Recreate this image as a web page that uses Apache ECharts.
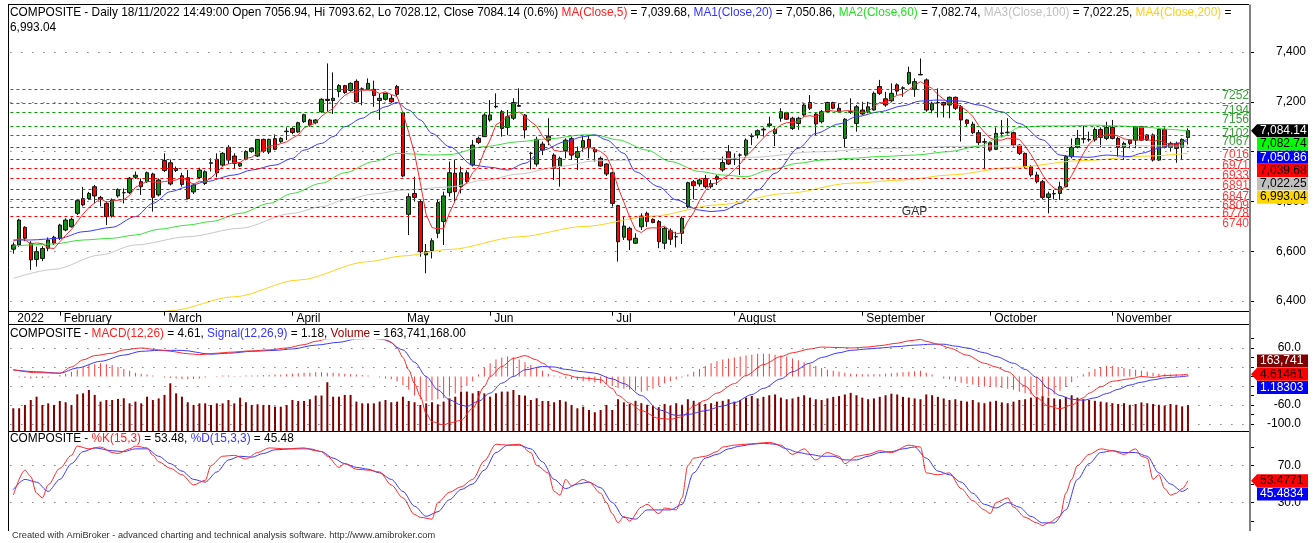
<!DOCTYPE html>
<html>
<head>
<meta charset="utf-8">
<title>COMPOSITE - Daily</title>
<script src="https://cdn.jsdelivr.net/npm/echarts@6.0.0/dist/echarts.min.js"></script>
<style>
html, body { margin: 0; padding: 0; background: #fff; }
#chart { width: 1314px; height: 543px; }
</style>
</head>
<body>
<div id="chart"></div>
<script>
var FONT = '"Liberation Sans", Arial, sans-serif';

// trading days on the chart, by month
var tradingDays = [
  ['2022-01', [20,21,24,25,26,27,28,31]],
  ['2022-02', [2,3,4,7,8,9,10,11,14,15,16,17,18,21,22,23,24,25]],
  ['2022-03', [1,2,4,7,8,9,10,11,14,15,16,17,18,21,22,23,24,25,28,29,30,31]],
  ['2022-04', [1,4,5,6,7,8,11,12,13,14,18,19,20,21,22,25,26,27,28]],
  ['2022-05', [9,10,11,12,13,17,18,19,20,23,24,25,27,30,31]],
  ['2022-06', [2,3,6,7,8,9,10,13,14,15,16,17,20,21,22,23,24,27,28,29,30]],
  ['2022-07', [1,4,5,6,7,8,11,12,13,14,15,18,19,20,21,22,25,26,27,28,29]],
  ['2022-08', [1,2,3,4,5,8,9,10,11,12,15,16,18,19,22,23,24,25,26,29,30,31]],
  ['2022-09', [1,2,5,6,7,8,9,12,13,14,15,16,19,20,21,22,23,26,27,28,29,30]],
  ['2022-10', [3,4,5,6,7,10,11,12,13,14,17,18,19,20,21,24,25,26,27,28,31]],
  ['2022-11', [1,2,3,4,7,8,9,10,11,14,15,16,17,18]]
];
var monthNames = {
  '2022-02': 'February', '2022-03': 'March', '2022-04': 'April', '2022-05': 'May',
  '2022-06': 'Jun', '2022-07': 'Jul', '2022-08': 'August', '2022-09': 'September',
  '2022-10': 'October', '2022-11': 'November'
};
var emptyBars = 10;

// open, close, low, high
var candles = [
  [6608,6625,6590,6635],[6625,6725,6618,6730],[6696,6652,6640,6700],[6632,6565,6525,6640],
  [6567,6598,6538,6618],[6571,6611,6560,6620],[6612,6645,6600,6655],[6656,6632,6625,6662],
  [6652,6705,6645,6710],[6685,6725,6680,6732],[6698,6728,6695,6735],[6752,6803,6745,6810],
  [6811,6786,6780,6858],[6811,6832,6805,6838],[6859,6822,6792,6866],[6816,6808,6780,6822],
  [6792,6739,6705,6800],[6741,6806,6735,6812],[6822,6848,6815,6852],[6835,6835,6792,6852],
  [6835,6893,6830,6898],[6897,6905,6890,6920],[6879,6859,6826,6892],[6879,6915,6875,6920],
  [6910,6816,6759,6915],[6826,6886,6820,6892],[6964,6924,6918,6993],[6955,6870,6864,6968],
  [6924,6932,6918,6940],[6903,6868,6859,6915],[6895,6811,6808,6926],[6838,6866,6830,6872],
  [6896,6926,6890,6935],[6872,6919,6866,6925],[6953,6955,6920,6973],[6969,6915,6897,6993],
  [6946,6993,6940,6998],[7017,6966,6950,7026],[6982,6953,6933,6993],[6942,6953,6938,6958],
  [6970,7000,6965,7005],[7000,7013,6995,7018],[6982,7049,6978,7050],[7049,7002,6995,7052],
  [6998,7049,6990,7052],[7052,7009,7006,7069],[7040,7053,7035,7058],[7080,7082,7046,7097],
  [7093,7077,7070,7098],[7079,7116,7075,7120],[7120,7148,7115,7152],[7127,7107,7100,7132],
  [7116,7127,7110,7130],[7160,7210,7156,7214],[7210,7205,7160,7354],[7205,7214,7151,7318],
  [7241,7265,7218,7271],[7265,7237,7232,7268],[7245,7274,7240,7278],[7282,7200,7196,7290],
  [7250,7252,7186,7258],[7250,7274,7247,7294],[7250,7225,7180,7285],[7205,7214,7127,7231],
  [7210,7234,7205,7236],[7214,7200,7196,7227],[7261,7230,7220,7268],[7156,6902,6897,7160],
  [6748,6819,6665,6832],[6832,6816,6799,6899],[6799,6598,6578,6806],[6585,6598,6511,6629],
  [6602,6642,6571,6652],[6672,6795,6652,6806],[6719,6822,6625,6839],[6835,6915,6819,6960],
  [6913,6839,6799,6966],[6859,6915,6832,6940],[6915,6880,6870,6925],[6946,7026,6940,7047],
  [7053,7037,7030,7060],[7060,7147,7060,7154],[7127,7147,7120,7207],[7180,7182,7174,7234],
  [7160,7093,7060,7167],[7097,7140,7066,7167],[7134,7197,7127,7214],[7185,7182,7180,7254],
  [7147,7087,7053,7151],[6993,6993,6929,6999],[6950,7049,6940,7060],[7030,7006,6986,7040],
  [7062,7046,7026,7134],[6986,6933,6886,6993],[6940,6973,6859,6980],[7004,7046,6973,7053],
  [7052,6986,6966,7060],[6977,7000,6926,7020],[7017,7044,7000,7067],[7049,7015,6973,7067],
  [7009,6999,6960,7017],[6973,6942,6940,6980],[6950,6910,6902,6953],[6915,6792,6779,6919],
  [6783,6638,6558,6786],[6656,6701,6645,6738],[6692,6645,6605,6698],[6632,6652,6629,6672],
  [6698,6741,6685,6752],[6752,6719,6698,6759],[6728,6715,6712,6732],[6719,6638,6612,6725],
  [6632,6692,6608,6698],[6682,6648,6625,6692],[6658,6658,6615,6678],[6672,6732,6629,6739],
  [6779,6875,6772,6879],[6879,6863,6808,6886],[6870,6886,6859,6892],[6892,6859,6852,6906],
  [6859,6872,6852,6886],[6899,6889,6866,6906],[6926,6956,6919,6980],[6999,6950,6946,7026],
  [6970,6970,6946,6993],[6986,6986,6906,6993],[6986,7046,6982,7053],[7060,7063,7026,7073],
  [7067,7084,7053,7089],[7087,7090,7060,7097],[7105,7111,7097,7140],[7073,7089,7022,7097],
  [7134,7160,7120,7174],[7156,7130,7127,7160],[7134,7093,7087,7140],[7113,7134,7087,7140],
  [7147,7187,7140,7194],[7197,7174,7167,7227],[7151,7111,7066,7156],[7120,7160,7113,7167],
  [7160,7197,7156,7200],[7197,7174,7170,7200],[7174,7160,7156,7194],[7053,7130,7017,7134],
  [7158,7160,7151,7214],[7113,7180,7080,7187],[7167,7151,7147,7200],[7160,7180,7154,7200],
  [7167,7234,7164,7241],[7261,7234,7227,7288],[7212,7187,7180,7240],[7204,7234,7200,7274],
  [7268,7243,7228,7274],[7254,7256,7220,7262],[7274,7318,7268,7341],[7250,7281,7220,7294],
  [7310,7308,7307,7374],[7288,7167,7160,7294],[7167,7194,7154,7200],[7197,7196,7137,7254],
  [7197,7187,7137,7200],[7187,7218,7134,7221],[7218,7174,7167,7221],[7180,7127,7040,7187],
  [7127,7113,7103,7130],[7110,7076,7070,7120],[7076,7036,7026,7087],[7040,7038,6929,7053],
  [7036,7006,7000,7040],[7009,7073,7006,7097],[7073,7075,7057,7127],[7076,7078,7066,7134],
  [7076,7026,7020,7080],[7026,6993,6986,7030],[6993,6939,6933,6996],[6939,6906,6899,6946],
  [6906,6879,6872,6919],[6879,6816,6808,6886],[6816,6830,6752,6839],[6830,6832,6808,6846],
  [6832,6859,6806,6879],[6859,6980,6856,6986],[6980,7017,6973,7053],[7017,7053,7013,7087],
  [7050,7052,7033,7103],[7047,7049,7040,7080],[7047,7089,7040,7097],[7089,7057,7017,7097],
  [7053,7097,7046,7120],[7097,7053,7049,7127],[7053,7017,6980,7060],[7017,7033,6966,7040],
  [7046,7033,7013,7049],[7046,7100,7013,7103],[7100,7046,7044,7103],[7067,7046,7044,7070],
  [7067,6966,6960,7073],[6966,7089,6963,7093],[7089,7017,7013,7097],[7017,7033,7000,7040],
  [7033,7013,6955,7040],[7017,7049,6966,7053],[7056.94,7084.14,7028.12,7093.62]
];

// MA(Close,5), one value per bar
var ma5 = [
  6640,6650,6645,6630,6633,6630,6614,6610,6638,6664,6687,6719,6749,6775,6794,6810,6797,6801,6805,6807,
  6824,6857,6868,6881,6878,6876,6880,6882,6886,6896,6881,6869,6881,6878,6895,6916,6942,6950,6956,6956,
  6973,6977,6994,7003,7023,7024,7032,7039,7054,7067,7095,7106,7115,7142,7159,7173,7204,7226,7239,7238,
  7246,7247,7245,7233,7240,7229,7221,7156,7077,6993,6873,6747,6695,6690,6691,6754,6803,6857,6874,6915,
  6939,7001,7047,7108,7121,7142,7152,7159,7140,7120,7102,7063,7036,7005,7001,7001,6997,6988,7010,7018,
  7009,7000,6982,6932,6856,6797,6737,6686,6675,6692,6694,6693,6701,6682,6670,6674,6721,6755,6803,6843,
  6871,6874,6892,6905,6927,6950,6982,7003,7030,7054,7079,7087,7107,7116,7117,7121,7141,7144,7140,7153,
  7166,7163,7160,7164,7164,7161,7156,7160,7181,7196,7197,7214,7226,7231,7248,7266,7281,7266,7254,7229,
  7210,7192,7194,7180,7164,7142,7105,7078,7054,7046,7046,7054,7052,7049,7022,6988,6949,6907,6874,6853,
  6843,6863,6904,6948,6992,7030,7052,7060,7069,7069,7063,7051,7047,7047,7046,7052,7038,7049,7033,7030,
  7024,7040,7039.68
];

// [bar number, value] read along the smoother averages
var ma20 = [[1,6645],[4,6645],[9,6652],[13,6678],[18,6696],[22,6739],[25,6792],[28,6839],[31,6859],[34,6879],
  [39,6906],[42,6926],[46,6946],[49,6973],[51,7006],[54,7033],[56,7060],[58,7100],[61,7134],[63,7160],
  [65,7180],[67,7197],[69,7167],[71,7127],[73,7073],[76,7020],[80,6946],[83,6937],[86,6926],[89,6953],
  [92,7006],[96,7040],[99,7060],[101,7067],[103,7047],[106,6993],[108,6919],[112,6859],[115,6806],[119,6765],
  [121,6759],[123,6763],[126,6792],[129,6846],[132,6913],[136,7013],[139,7073],[143,7111],[146,7140],[150,7160],
  [154,7184],[157,7203],[160,7207],[164,7203],[167,7187],[171,7160],[174,7113],[178,7047],[181,6986],[183,6980],
  [186,6977],[189,6986],[193,6980],[195,6993],[198,7013],[201,7033],[203,7050.86]];
var ma60 = [[1,6621],[8,6629],[13,6645],[18,6652],[22,6665],[26,6688],[31,6705],[35,6719],[40,6752],[45,6792],
  [49,6832],[54,6873],[58,6915],[63,6960],[67,6993],[70,6990],[73,6986],[76,6988],[82,7020],[88,7040],
  [93,7051],[99,7067],[101,7067],[105,7047],[110,7006],[114,6960],[119,6920],[123,6906],[127,6899],[131,6926],
  [136,6953],[140,6966],[145,6973],[150,6980],[156,6986],[162,7000],[167,7022],[171,7060],[174,7097],[178,7103],
  [182,7103],[187,7106],[191,7103],[196,7097],[200,7089],[203,7082.74]];
var ma100 = [[1,6491],[8,6527],[16,6585],[22,6625],[31,6658],[40,6692],[49,6752],[54,6779],[58,6806],[63,6830],
  [68,6845],[76,6858],[82,6885],[88,6910],[95,6940],[101,6963],[111,6968],[122,6970],[128,6977],[139,6999],
  [150,7013],[167,7022],[179,7025],[203,7022.25]];
var ma200 = [[25,6340],[28,6361],[39,6417],[50,6484],[62,6558],[68,6581],[76,6607],[88,6658],[99,6699],[111,6741],
  [122,6786],[134,6832],[145,6873],[154,6886],[162,6906],[173,6937],[185,6964],[196,6982],[203,6993.04]];

var greenLevels = [7252, 7194, 7156, 7102, 7067];
var redLevels = [7016, 6971, 6933, 6891, 6847, 6809, 6778, 6740];
var priceTicks = [6400, 6600, 6800, 7000, 7200, 7400];

// MACD panel
var macd = [[1,14],[5,8],[9,7],[11,20],[13,35],[15,44],[18,49],[20,56],[23,60],[26,56],[28,53],[31,48],[33,46],
  [36,49],[38,51],[42,54],[45,56],[48,60],[51,67],[53,74],[55,79],[58,85],[61,86],[64,82],[66,72],[67,60],
  [68,40],[69,14],[70,-15],[71,-42],[72,-78],[73,-95],[75,-102],[76,-98],[78,-92],[80,-67],[82,-21],[83,0],
  [85,21],[87,38],[89,44],[91,35],[92,28],[94,12],[96,4],[98,-2],[100,-4],[102,-7],[104,-25],[105,-40],
  [107,-56],[109,-72],[112,-88],[114,-90],[116,-85],[118,-62],[120,-50],[122,-35],[125,-15],[127,2],[130,25],
  [133,42],[135,50],[138,58],[140,62],[143,61],[145,60],[148,62],[150,65],[153,70],[155,75],[157,78],[158,74],
  [160,68],[162,60],[165,45],[168,28],[170,20],[172,10],[175,-20],[177,-45],[179,-62],[181,-68],[183,-60],
  [185,-45],[186,-35],[188,-22],[190,-10],[193,-5],[195,0],[197,-2],[199,2],[201,3],[203,4.61]];
var signal = [[1,14],[5,10],[9,7],[12,18],[16,32],[20,45],[23,53],[26,55],[30,55],[35,47],[38,49],[42,53],
  [46,55],[49,58],[53,66],[57,72],[60,79],[63,80],[65,77],[68,56],[70,30],[72,0],[74,-28],[76,-49],[78,-60],
  [79,-63],[81,-52],[83,-35],[85,-14],[87,0],[89,14],[92,21],[94,20],[96,15],[99,10],[101,7],[104,-5],
  [106,-15],[109,-40],[112,-70],[115,-82],[117,-80],[120,-72],[123,-62],[125,-55],[128,-38],[130,-25],
  [133,-5],[135,10],[138,28],[140,40],[143,50],[145,55],[148,58],[150,60],[153,63],[156,66],[159,68],
  [161,68],[163,64],[165,60],[168,50],[170,42],[173,28],[175,15],[177,-2],[179,-25],[181,-40],[183,-48],
  [185,-50],[187,-45],[189,-36],[191,-27],[193,-18],[195,-12],[197,-7],[199,-3],[201,-1],[203,1.18]];
var histogram = [
  0,-2,-3,-4,-3,-3,-2,0,
  3,6,10,15,20,24,26,28,26,24,20,16,12,8,
  6,4,2,0,-2,-3,-4,-5,-6,-5,-4,-2,0,1,2,2,1,1,2,2,
  2,3,3,4,4,5,6,7,8,8,9,9,8,8,7,6,5,4,3,2,
  0,-2,-4,-6,-10,
  -18,-28,-40,-48,-52,-50,-48,-46,-42,-36,-30,-20,-10,
  4,18,28,36,40,42,40,36,30,24,18,12,6,
  2,-2,-4,-6,-8,-10,-10,-12,-14,-16,
  -20,-24,-26,-28,-30,-32,-30,-26,-20,
  -14,-10,-6,-2,4,10,16,22,28,32,36,38,40,
  42,44,46,48,48,48,46,44,42,38,34,30,26,22,18,
  14,12,10,8,6,5,5,5,5,5,6,7,8,9,10,11,12,
  8,4,0,-4,-6,-10,-13,-15,-17,-19,-21,-22,-22,
  -24,-26,-28,-32,-35,-38,-40,-42,-42,-38,-30,-22,
  -12,-2,5,10,16,20,22,22,
  20,18,16,14,12,10,8,6,5,4,4,3,3
];
// volume, millions
var volume = [
  143,143,164,195,216,164,174,164,189,181, 164,231,237,258,227,185,195,195,202,206,
  174,185,174,216,195,205,227,300,237,216, 181,164,174,174,164,174,174,195,174,210,
  181,164,168,164,164,153,153,164,195,189, 189,200,223,223,307,216,216,227,227,185,
  174,174,174,185,195,181,185,216,189,181, 164,174,181,168,185,206,216,248,248,237,
  252,237,216,237,248,248,258,227,223,195, 206,189,189,181,195,185,164,143,153,132,
  118,132,164,132,200,180,170,190,175,165,160,150,
  170,160,175,165,200,190,180,170,175,185,190,200,185,
  195,210,220,205,215,225,230,210,200,205,215,225,210,200,195,
  205,215,220,230,240,225,210,200,205,215,225,235,230,215,210,205,200,
  230,225,215,205,195,200,190,185,195,180,175,185,190,
  180,175,185,195,200,210,215,220,210,205,200,215,
  225,210,200,195,190,185,180,175,
  170,175,165,170,180,175,170,165,160,170,165,155,164
];
var macdTicks = [-100,-80,-60,-40,-20,0,20,40,60,80];
var macdLabels = [-100,-60,0,60];
var macdGrid = [60,20,-20,-60,-100];

// Stochastic panel
var stochK = [[1,38],[3,65],[4,58],[5,40],[6,35],[7,49],[9,67],[11,81],[12,91],[14,88],[16,90],[18,84],[19,83],
  [21,88],[22,91],[24,89],[25,81],[26,74],[28,67],[30,60],[32,49],[34,54],[35,70],[37,80],[39,81],[41,77],
  [43,84],[45,89],[48,88],[51,89],[53,86],[54,85],[55,80],[57,68],[58,72],[60,66],[62,65],[64,63],[66,49],
  [68,35],[70,17],[71,14],[73,12],[74,30],[76,41],[78,47],[80,55],[82,75],[84,93],[86,92],[88,93],[90,84],
  [91,70],[93,62],[94,42],[95,38],[96,55],[97,48],[99,55],[100,52],[102,40],[103,30],[104,18],[105,8],
  [106,15],[107,10],[109,25],[110,28],[112,18],[113,24],[115,22],[116,35],[117,70],[118,78],[120,80],
  [122,85],[123,90],[125,92],[127,93],[129,94],[131,95],[133,92],[135,82],[137,88],[139,76],[141,84],
  [143,80],[144,72],[146,80],[148,82],[150,86],[152,84],[155,92],[157,90],[158,62],[160,60],[162,62],
  [164,45],[166,32],[168,22],[169,18],[170,30],[172,35],[173,25],[175,14],[177,8],[178,5],[179,8],[181,15],
  [182,40],[183,55],[184,70],[186,82],[188,88],[190,86],[192,82],[194,88],[195,80],[196,78],[197,55],
  [198,60],[199,45],[200,38],[201,40],[202,45],[203,53.48]];
var stochD = [[1,44],[3,55],[5,52],[7,42],[9,55],[11,72],[13,85],[15,89],[18,86],[20,85],[22,88],[24,88],
  [26,80],[28,72],[30,64],[32,55],[34,52],[36,63],[38,76],[40,80],[42,79],[44,83],[46,87],[49,88],[52,88],
  [54,85],[56,78],[58,72],[60,68],[62,66],[64,62],[66,55],[68,42],[70,26],[72,15],[74,20],[76,33],[78,44],
  [80,50],[82,65],[84,84],[86,92],[88,92],[90,88],[92,74],[94,55],[96,45],[98,50],[100,52],[102,46],
  [104,30],[106,14],[108,12],[110,22],[112,22],[114,22],[116,28],[118,62],[120,78],[122,82],[124,88],
  [126,91],[128,93],[130,94],[132,93],[134,88],[136,84],[138,82],[140,80],[142,80],[144,76],[146,76],
  [148,80],[150,84],[152,85],[154,88],[156,90],[158,78],[160,64],[162,60],[164,52],[166,40],[168,28],
  [170,24],[172,30],[174,25],[176,15],[178,8],[180,8],[182,22],[184,55],[186,72],[188,84],[190,86],
  [192,84],[194,84],[196,80],[198,62],[200,50],[202,42],[203,45.48]];
var stochTicks = [10,30,50,70,90];
var stochLabels = [30,70];

// last values shown in the right-hand tags
var lastClose = 7084.14;
var lastMa = [7082.74, 7050.86, 7039.68, 7022.25, 6993.04];
var lastMacd = 4.61461, lastSignal = 1.18303, lastVolume = '163,741,168.00';
var lastK = 53.4771, lastD = 45.4834;

// ---- build categories
var categories = [];
var monthStart = {};
tradingDays.forEach(function (m) {
  m[1].forEach(function (d, k) {
    if (k === 0) monthStart[categories.length] = m[0];
    categories.push(m[0] + '-' + (d < 10 ? '0' : '') + d);
  });
});
for (var e = 0; e < emptyBars; e++) categories.push('blank' + e);

function pts(arr) { return arr.map(function (p) { return [p[0] - 1, p[1]]; }); }

var chartLeft = 10.4, chartRight = 1249;
var layout = { left: chartLeft, width: chartRight - chartLeft };

var chart = echarts.init(document.getElementById('chart'), null, { renderer: 'canvas', devicePixelRatio: 1, width: 1314, height: 543 });

var txt = { fontFamily: FONT, fontSize: 11.85, fontWeight: 'normal', color: '#000', lineHeight: 15 };
function rich(c) { return Object.assign({}, txt, { color: c }); }

function dotted(values) {
  return values.map(function (v) { return { yAxis: v }; });
}
var levelLines = greenLevels.map(function (v) {
  return { yAxis: v, lineStyle: { color: '#00a000', type: [3, 3], width: 1 },
    label: { show: true, color: '#3aa03a' } };
}).concat(redLevels.map(function (v) {
  return { yAxis: v, lineStyle: { color: '#ff0000', type: [3, 3], width: 1 },
    label: { show: true, color: '#ff3c3c' } };
}));

function maLine(name, data, color, smooth) {
  return {
    type: 'line', name: name, xAxisIndex: 0, yAxisIndex: 0, data: data,
    showSymbol: false, smooth: smooth, smoothMonotone: 'x', z: 4, silent: true,
    lineStyle: { color: color, width: 1 }
  };
}

var option = {
  animation: false,
  backgroundColor: '#fff',
  title: [
    { left: 10, top: 5, padding: 0, text:
      '{k|COMPOSITE - Daily 18/11/2022 14:49:00 Open 7056.94, Hi 7093.62, Lo 7028.12, Close 7084.14 (0.6%) }' +
      '{r|MA(Close,5)}{k| = 7,039.68, }{b|MA1(Close,20)}{k| = 7,050.86, }{g|MA2(Close,60)}{k| = 7,082.74, }' +
      '{s|MA3(Close,100)}{k| = 7,022.25, }{y|MA4(Close,200)}{k| =}\n{k|6,993.04}',
      textStyle: { fontWeight: 'normal', rich: { k: rich('#000'), r: rich('#ff2020'), b: rich('#3434ff'), g: rich('#22e022'), s: rich('#c0c0c0'), y: rich('#ffcc22') } } },
    { left: 10, top: 326, padding: 0, backgroundColor: '#fff', z: 10, text:
      '{k|COMPOSITE - }{r|MACD(12,26)}{k| = 4.61, }{b|Signal(12,26,9)}{k| = 1.18, }{v|Volume}{k| = 163,741,168.00}',
      textStyle: { fontWeight: 'normal', rich: { k: rich('#000'), r: rich('#ff2020'), b: rich('#3434ff'), v: rich('#a00000') } } },
    { left: 10, top: 431, padding: 0, backgroundColor: '#fff', z: 10, text:
      '{k|COMPOSITE - }{r|%K(15,3)}{k| = 53.48, }{b|%D(15,3,3)}{k| = 45.48}',
      textStyle: { fontWeight: 'normal', rich: { k: rich('#000'), r: rich('#ff2020'), b: rich('#3434ff') } } },
    { left: 12, top: 531, padding: 0, text: 'Created with AmiBroker - advanced charting and technical analysis software. http://www.amibroker.com',
      textStyle: { fontFamily: FONT, fontSize: 9.25, fontWeight: 'normal', color: '#333' } }
  ],
  grid: [
    Object.assign({ top: 5, height: 306.7 }, layout),
    Object.assign({ top: 325, height: 106 }, layout),
    Object.assign({ top: 431, height: 100 }, layout)
  ],
  xAxis: [
    { type: 'category', gridIndex: 0, data: categories, boundaryGap: true,
      axisLine: { show: false },
      axisTick: { show: true, alignWithLabel: true, length: 4, lineStyle: { color: '#000' },
        interval: function (i) { return i !== 0 && monthStart[i] !== undefined && monthStart[i] !== '2022-05'; } },
      axisLabel: { show: true, margin: 1, align: 'left', padding: [0, 0, 0, 4], color: '#000', fontFamily: FONT, fontSize: 12,
        interval: function (i) { return monthStart[i] !== undefined; },
        formatter: function (v, i) { return i === 0 ? '2022' : monthNames[monthStart[i]]; } },
      splitLine: { show: false } },
    { type: 'category', gridIndex: 1, data: categories, show: false },
    { type: 'category', gridIndex: 2, data: categories, show: false },
    { type: 'category', gridIndex: 1, data: categories, show: false }
  ],
  yAxis: [
    { type: 'value', gridIndex: 0, position: 'right', min: 6357, max: 7588.7, scale: true,
      axisLine: { show: false }, splitLine: { show: false },
      axisTick: { show: true, length: 5, customValues: priceTicks, lineStyle: { color: '#000' } },
      axisLabel: { show: true, customValues: priceTicks, margin: 57, align: 'right', color: '#000', fontFamily: FONT, fontSize: 12,
        formatter: function (v) { return Number(v).toLocaleString('en-US'); } } },
    { type: 'value', gridIndex: 1, position: 'right', min: -114.7, max: 108.4,
      axisLine: { show: false }, splitLine: { show: false },
      axisTick: { show: true, length: 5, customValues: macdTicks, lineStyle: { color: '#000' } },
      axisLabel: { show: true, customValues: macdLabels, margin: 52, align: 'right', color: '#000', fontFamily: FONT, fontSize: 12,
        formatter: function (v) { return Number(v).toFixed(1); } } },
    { type: 'value', gridIndex: 1, min: 0, max: 667, show: false },
    { type: 'value', gridIndex: 2, position: 'right', min: -0.8, max: 107.3,
      axisLine: { show: false }, splitLine: { show: false },
      axisTick: { show: true, length: 5, customValues: stochTicks, lineStyle: { color: '#000' } },
      axisLabel: { show: true, customValues: stochLabels, margin: 52, align: 'right', color: '#000', fontFamily: FONT, fontSize: 12,
        formatter: function (v) { return Number(v).toFixed(1); } } }
  ],
  series: [
    { type: 'line', xAxisIndex: 0, yAxisIndex: 0, data: [], z: 1, silent: true,
      markLine: { silent: true, symbol: ['none', 'none'], animation: false,
        label: { show: false, position: 'insideEndBottom', distance: [0, 1], fontFamily: FONT, fontSize: 12, formatter: '{c}' },
        lineStyle: { color: '#444', type: [1, 10], width: 1 },
        data: dotted(priceTicks).concat(levelLines) } },
    { type: 'candlestick', name: 'COMPOSITE', xAxisIndex: 0, yAxisIndex: 0, data: candles, barWidth: 4, z: 3,
      itemStyle: { color: '#128c12', color0: '#ff0000', borderColor: '#111', borderColor0: '#111', borderWidth: 1 } },
    maLine('MA200', pts(ma200), '#ffd21f', 0.3),
    maLine('MA100', pts(ma100), '#c8c8c8', 0.3),
    maLine('MA60', pts(ma60), '#3ce03c', 0.3),
    maLine('MA20', pts(ma20), '#3a3aff', 0.3),
    maLine('MA5', ma5, '#ff2a2a', false),

    { type: 'line', xAxisIndex: 1, yAxisIndex: 1, data: [], z: 1, silent: true,
      markLine: { silent: true, symbol: ['none', 'none'], animation: false, label: { show: false },
        lineStyle: { color: '#444', type: [1, 10], width: 1 }, data: dotted(macdGrid) } },
    { type: 'bar', name: 'Volume', xAxisIndex: 3, yAxisIndex: 2, data: volume, barWidth: 2, z: 2, silent: true,
      itemStyle: { color: '#800000' } },
    { type: 'bar', name: 'Hist', xAxisIndex: 1, yAxisIndex: 1, data: histogram, barWidth: 1, z: 3, silent: true,
      itemStyle: { color: '#ff3a3a' } },
    { type: 'line', name: 'Signal', xAxisIndex: 1, yAxisIndex: 1, data: pts(signal), showSymbol: false, smooth: 0.3,
      smoothMonotone: 'x', z: 4, silent: true, lineStyle: { color: '#3a3aff', width: 1 } },
    { type: 'line', name: 'MACD', xAxisIndex: 1, yAxisIndex: 1, data: pts(macd), showSymbol: false, smooth: 0.3,
      smoothMonotone: 'x', z: 4, silent: true, lineStyle: { color: '#ff2a2a', width: 1 } },

    { type: 'line', xAxisIndex: 2, yAxisIndex: 3, data: [], z: 1, silent: true,
      markLine: { silent: true, symbol: ['none', 'none'], animation: false, label: { show: false },
        lineStyle: { color: '#444', type: [1, 10], width: 1 }, data: dotted(stochLabels) } },
    { type: 'line', name: '%D', xAxisIndex: 2, yAxisIndex: 3, data: pts(stochD), showSymbol: false, smooth: 0.3,
      smoothMonotone: 'x', z: 4, silent: true, lineStyle: { color: '#3a3aff', width: 1 } },
    { type: 'line', name: '%K', xAxisIndex: 2, yAxisIndex: 3, data: pts(stochK), showSymbol: false, smooth: 0.3,
      smoothMonotone: 'x', z: 4, silent: true, lineStyle: { color: '#ff2a2a', width: 1 } }
  ]
};
chart.setOption(option);

// ---- frame, separators and right-hand value tags
function hline(y, x1, x2, color, w) {
  return { type: 'line', shape: { x1: x1, y1: y, x2: x2, y2: y }, style: { stroke: color, lineWidth: w || 1 }, z: 50, silent: true };
}
function tag(y, label, bg, fg, arrow) {
  var h = 13, x0 = 1257, x1 = 1308;
  var points = arrow
    ? [[1251, y], [x0, y - h / 2], [x1, y - h / 2], [x1, y + h / 2], [x0, y + h / 2]]
    : [[x0, y - h / 2], [x1, y - h / 2], [x1, y + h / 2], [x0, y + h / 2]];
  return [
    { type: 'polygon', shape: { points: points }, style: { fill: bg }, z: 100, silent: true },
    { type: 'text', x: 1260, y: y, z: 101, silent: true,
      style: { text: label, fill: fg, font: '12px ' + FONT, verticalAlign: 'middle', align: 'left',
        width: 48, overflow: 'truncate', ellipsis: '' } }
  ];
}
function fmt2(v) { return v.toLocaleString('en-US', { minimumFractionDigits: 2, maximumFractionDigits: 2 }); }

var gapX = chart.convertToPixel({ xAxisIndex: 0 }, categories[154]);
var gapY = chart.convertToPixel({ yAxisIndex: 0 }, 6757);

var graphics = [
  hline(4.5, 8, chartRight, '#000'),
  hline(311.5, 8, chartRight, '#000'),
  hline(324.5, 8, chartRight, '#000'),
  hline(431.5, 8, chartRight, '#000'),
  { type: 'line', shape: { x1: 8.5, y1: 4.5, x2: 8.5, y2: 531 }, style: { stroke: '#000', lineWidth: 1 }, z: 50, silent: true },
  { type: 'line', shape: { x1: 1250, y1: 4.5, x2: 1250, y2: 531 }, style: { stroke: '#808080', lineWidth: 2 }, z: 50, silent: true },
  { type: 'text', x: gapX - 7, y: gapY, z: 20, silent: true,
    style: { text: 'GAP', fill: '#333', font: '12px ' + FONT, verticalAlign: 'middle' } }
];

var step = 13.3;
var yc = chart.convertToPixel({ yAxisIndex: 0 }, lastClose);
var mainTags = [
  [fmt2(lastClose), '#000000', '#ffffff'],
  [fmt2(lastMa[0]), '#00ff00', '#000000'],
  [fmt2(lastMa[1]), '#0000ff', '#ffffff'],
  [fmt2(lastMa[2]), '#ff0000', '#000000'],
  [fmt2(lastMa[3]), '#c0c0c0', '#000000'],
  [fmt2(lastMa[4]), '#ffd700', '#000000']
];
mainTags.forEach(function (t, k) { graphics = graphics.concat(tag(yc + k * step, t[0], t[1], t[2], k === 0)); });

var ym = chart.convertToPixel({ yAxisIndex: 1 }, lastMacd);
graphics = graphics.concat(tag(ym - step, lastVolume, '#800000', '#ffffff', false));
graphics = graphics.concat(tag(ym, String(lastMacd), '#ff0000', '#000000', true));
graphics = graphics.concat(tag(ym + step, String(lastSignal), '#0000ff', '#ffffff', false));

var yk = chart.convertToPixel({ yAxisIndex: 3 }, lastK);
graphics = graphics.concat(tag(yk, String(lastK), '#ff0000', '#000000', true));
graphics = graphics.concat(tag(yk + step, String(lastD), '#0000ff', '#ffffff', false));

chart.setOption({ graphic: graphics });
</script>
</body>
</html>
